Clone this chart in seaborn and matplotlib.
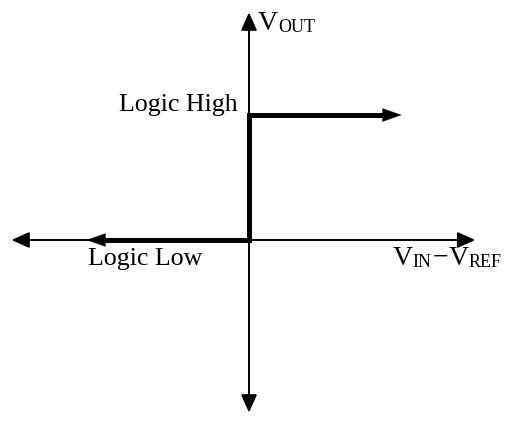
import matplotlib
matplotlib.use("Agg")
import matplotlib.pyplot as plt
from matplotlib.patches import Rectangle
import seaborn as sns
import pandas as pd

# ---- data: ideal comparator transfer characteristic ----
vin_minus_vref = [-1.30, 0.0, 0.0, 1.22]   # step path (x)
vout = [0.0, 0.0, 1.0, 1.0]                 # logic low -> logic high
x_axis_span = [-1.90, 1.81]
y_axis_span = [-1.38, 1.82]
label_high = "Logic High"
label_low = "Logic Low"
x_label_parts = [("V", "main"), ("IN", "sub"), ("\u2212", "main"), ("V", "main"), ("REF", "sub")]
y_label_parts = [("V", "main"), ("OUT", "sub")]

sns.set_style("white")
plt.rcParams["font.family"] = ["Liberation Serif", "DejaVu Serif"]

MAIN_FS = 20
SUB_FS = 13
LOGIC_FS = 18.7

fig = plt.figure(figsize=(5.11, 4.25), dpi=100)
ax = fig.add_axes([0, 0, 1, 1])
ax.set_xlim(-1.992, 2.096)
ax.set_ylim(-1.48, 1.92)
ax.axis("off")

# thin axes with arrowheads on both ends
thin = dict(arrowstyle="<|-|>,head_length=0.6,head_width=0.27",
            mutation_scale=18, lw=1.4, color="black", shrinkA=0, shrinkB=0)
ax.annotate("", xy=(x_axis_span[1], 0), xytext=(x_axis_span[0], 0), arrowprops=thin)
ax.annotate("", xy=(0, y_axis_span[1]), xytext=(0, y_axis_span[0]), arrowprops=thin)

# thick step line
df = pd.DataFrame({"x": vin_minus_vref, "y": vout})
sns.lineplot(data=df, x="x", y="y", sort=False, estimator=None,
             color="black", lw=3.6, ax=ax)
step_line = ax.lines[-1]
step_line.set_solid_capstyle("butt")
step_line.set_solid_joinstyle("miter")
clip = Rectangle((vin_minus_vref[0] + 0.07, -1.0),
                 (vin_minus_vref[-1] - 0.07) - (vin_minus_vref[0] + 0.07), 3.0,
                 transform=ax.transData, visible=False)
ax.add_patch(clip)
step_line.set_clip_path(clip)

thick = dict(arrowstyle="-|>,head_length=0.68,head_width=0.24",
             mutation_scale=20, lw=0.1, color="black", shrinkA=0, shrinkB=0)
ax.annotate("", xy=(vin_minus_vref[0], vout[0]),
            xytext=(vin_minus_vref[0] + 0.2, vout[0]), arrowprops=thick)
ax.annotate("", xy=(vin_minus_vref[-1], vout[-1]),
            xytext=(vin_minus_vref[-1] - 0.2, vout[-1]), arrowprops=thick)

# labels
ax.annotate(label_high, xy=(0, vout[-1]), xytext=(-11, 4), textcoords="offset pixels",
            ha="right", va="baseline", fontsize=LOGIC_FS, color="black")
ax.annotate(label_low, xy=(vin_minus_vref[0], vout[0]), xytext=(1, -25),
            textcoords="offset pixels", ha="left", va="baseline", fontsize=LOGIC_FS,
            color="black")


def chained_label(parts, anchor, offset):
    prev = None
    for text, kind in parts:
        fs = MAIN_FS if kind == "main" else SUB_FS
        if prev is None:
            prev = ax.annotate(text, xy=anchor, xytext=offset, textcoords="offset pixels",
                               ha="left", va="baseline", fontsize=fs, color="black")
        else:
            dx = 2 if text == "\u2212" else 0
            prev = ax.annotate(text, xy=(1, 0), xycoords=prev, xytext=(dx, 0),
                               textcoords="offset pixels", ha="left", va="bottom",
                               fontsize=fs, color="black")


chained_label(y_label_parts, (0, y_axis_span[1]), (9, -17.5))
chained_label(x_label_parts, (x_axis_span[1], 0), (-83, -25))

fig.savefig("out.png", dpi=100, facecolor="white")
